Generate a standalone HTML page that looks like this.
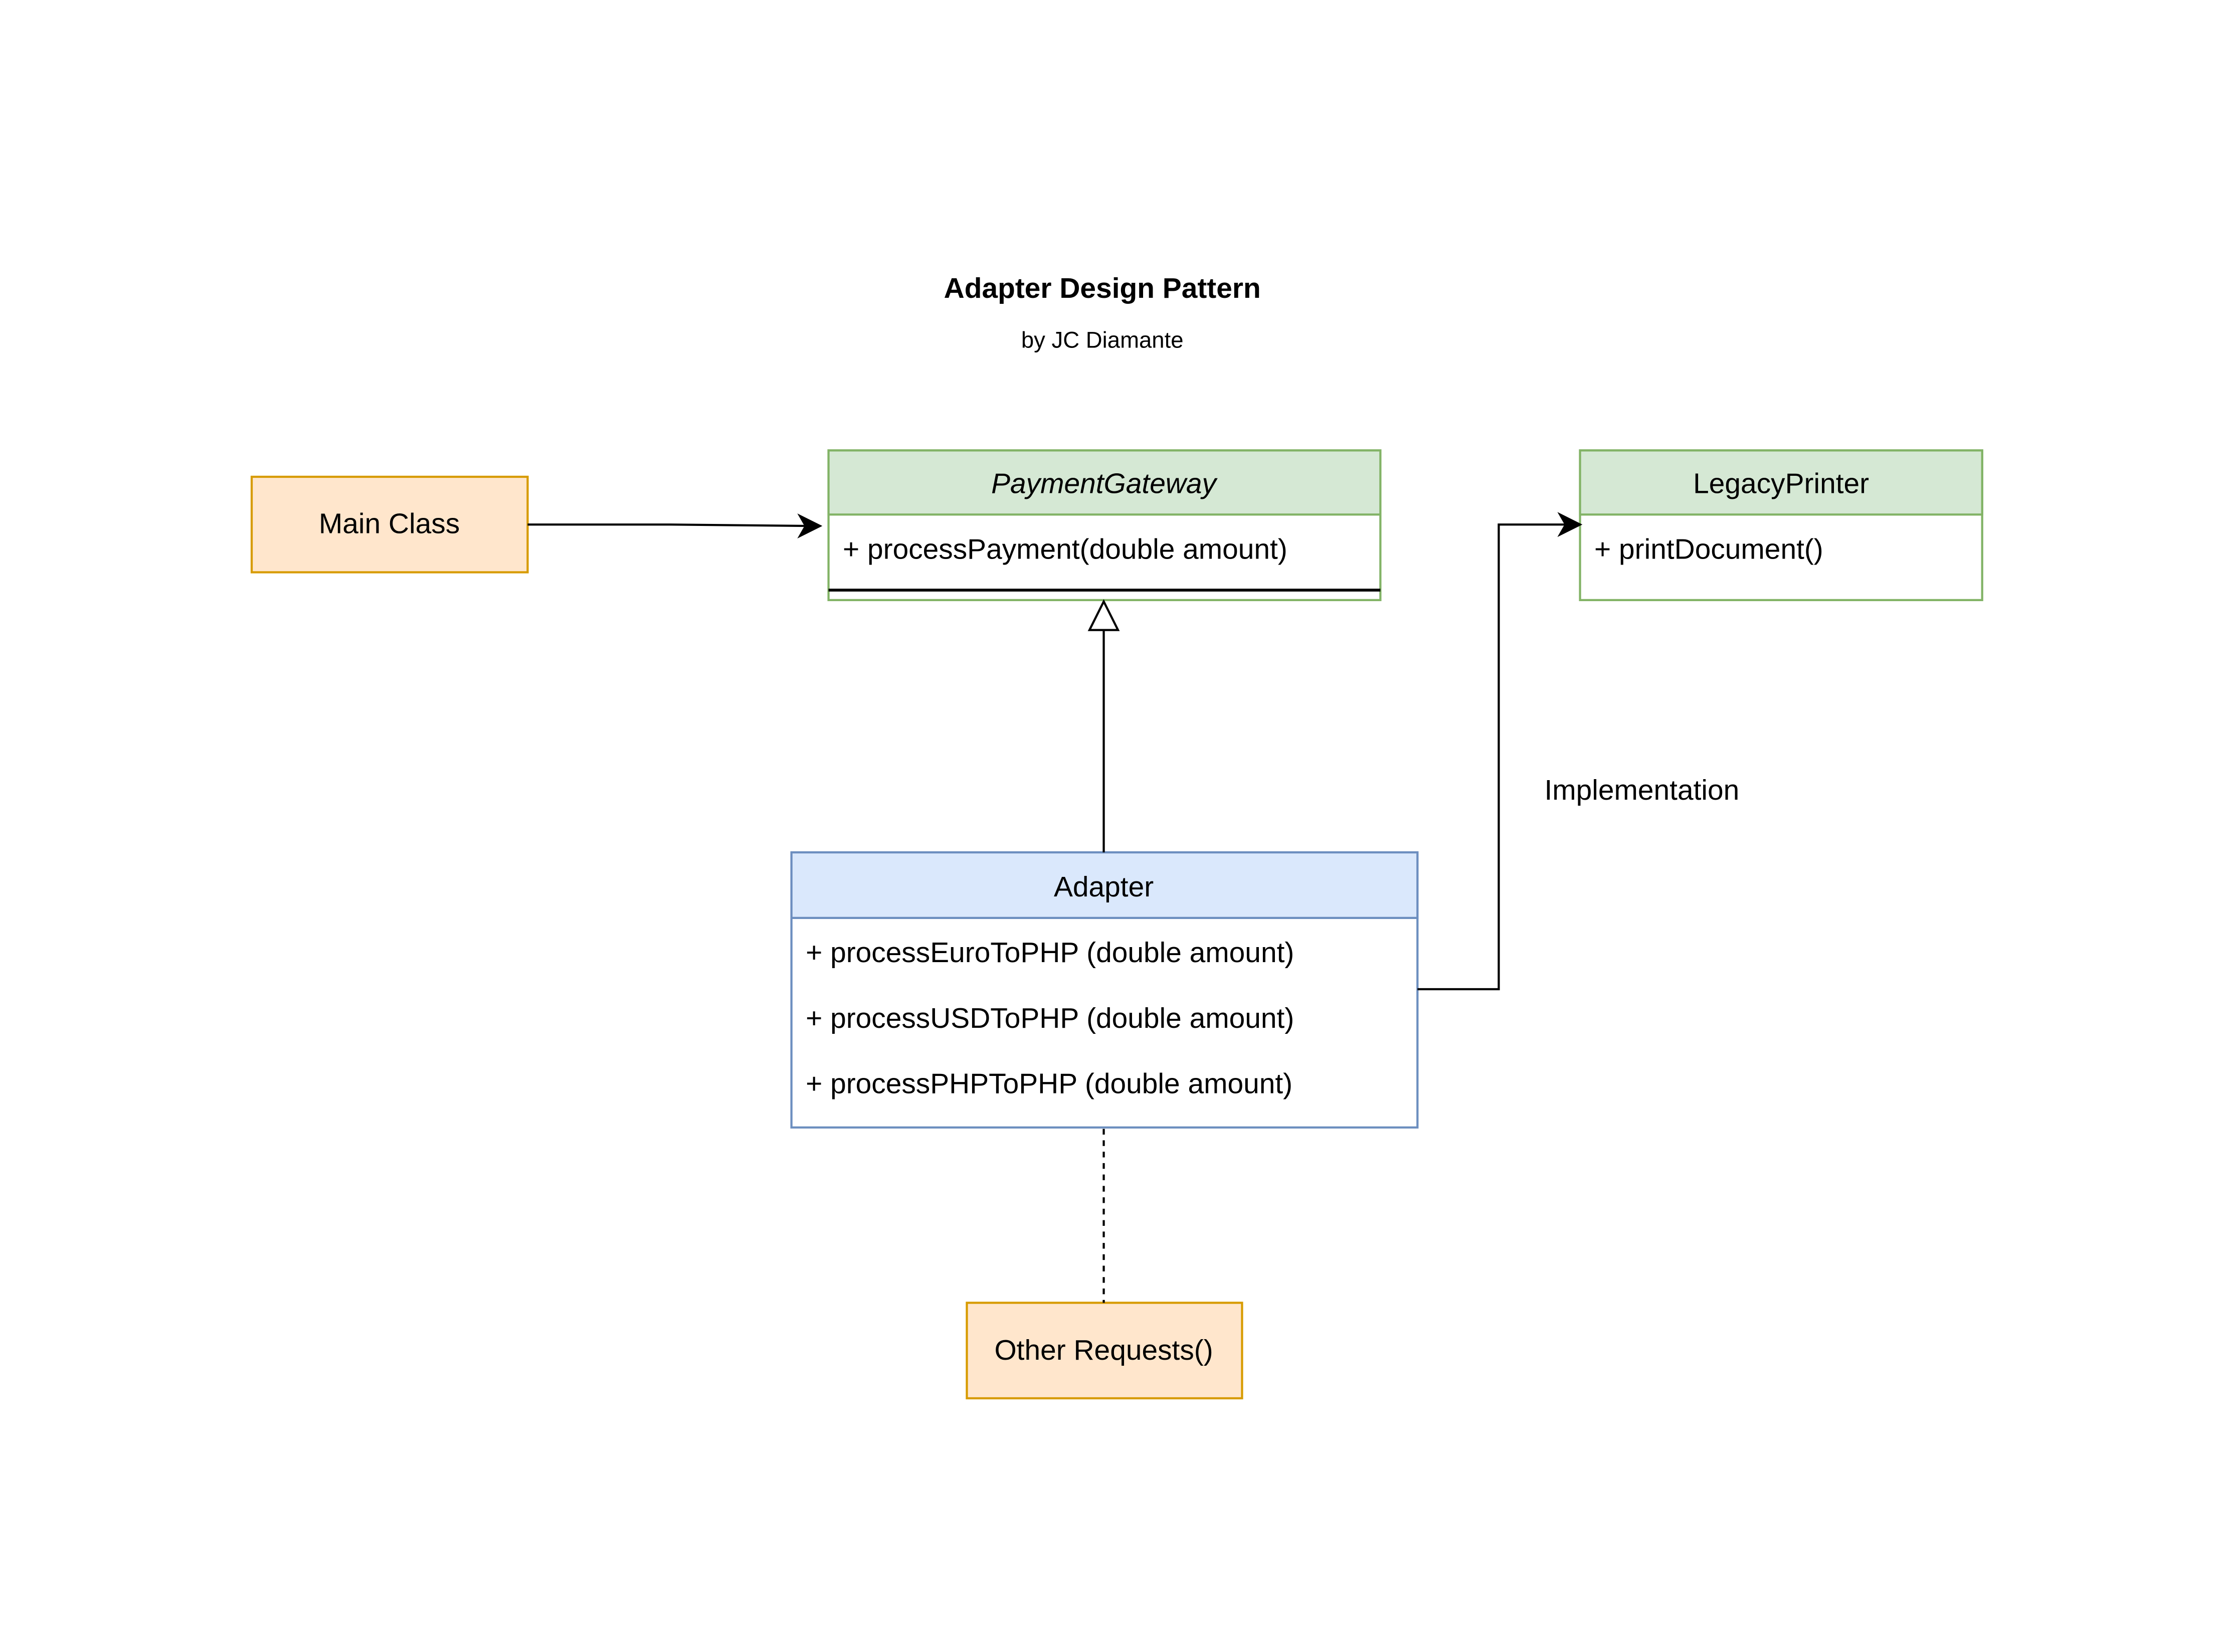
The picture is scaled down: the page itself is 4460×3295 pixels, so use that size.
<!DOCTYPE html>
<html><head><meta charset="utf-8"><style>
html,body{margin:0;padding:0;background:#fff;}
svg{display:block;}
text{font-family:"Liberation Sans",Arial,sans-serif;fill:#000;}
</style></head><body>
<svg width="4460" height="3295" viewBox="0 0 1568 1159" preserveAspectRatio="none" xmlns="http://www.w3.org/2000/svg">
<rect width="1568" height="1159" fill="#fff"/>
<text x="773" y="209" font-size="20" font-weight="bold" text-anchor="middle">Adapter Design Pattern</text>
<text x="773" y="244" font-size="16" text-anchor="middle">by JC Diamante</text>

<rect x="176.5" y="334.5" width="193.5" height="67" fill="#ffe6cc" stroke="#d79b00" stroke-width="1.5"/>
<text x="273" y="374" font-size="20" text-anchor="middle">Main Class</text>

<rect x="581" y="316" width="387" height="105" fill="#fff" stroke="#82b366" stroke-width="1.5"/>
<rect x="581" y="316" width="387" height="45" fill="#d5e8d4" stroke="#82b366" stroke-width="1.5"/>
<text x="774" y="346" font-size="20" font-style="italic" text-anchor="middle">PaymentGateway</text>
<text x="591" y="392" font-size="20">+ processPayment(double amount)</text>
<line x1="581" y1="414" x2="968" y2="414" stroke="#000" stroke-width="2"/>

<rect x="1108" y="316" width="282" height="105" fill="#fff" stroke="#82b366" stroke-width="1.5"/>
<rect x="1108" y="316" width="282" height="45" fill="#d5e8d4" stroke="#82b366" stroke-width="1.5"/>
<text x="1249" y="346" font-size="20" text-anchor="middle">LegacyPrinter</text>
<text x="1118" y="392" font-size="20">+ printDocument()</text>

<rect x="555" y="598" width="439" height="193" fill="#fff" stroke="#6c8ebf" stroke-width="1.5"/>
<rect x="555" y="598" width="439" height="46" fill="#dae8fc" stroke="#6c8ebf" stroke-width="1.5"/>
<text x="774" y="629" font-size="20" text-anchor="middle">Adapter</text>
<text x="565" y="675" font-size="20">+ processEuroToPHP (double amount)</text>
<text x="565" y="721" font-size="20">+ processUSDToPHP (double amount)</text>
<text x="565" y="767" font-size="20">+ processPHPToPHP (double amount)</text>

<rect x="678" y="914" width="193" height="67" fill="#ffe6cc" stroke="#d79b00" stroke-width="1.5"/>
<text x="774" y="954" font-size="20" text-anchor="middle">Other Requests()</text>

<path d="M370 368 L470 368 L566 369" fill="none" stroke="#000" stroke-width="1.5"/>
<path d="M575 369 L561 376 L565 369 L561 362 Z" fill="#000" stroke="#000" stroke-width="1.5"/>

<line x1="774" y1="598" x2="774" y2="442" stroke="#000" stroke-width="1.5"/>
<path d="M774 422 L764 442 L784 442 Z" fill="#fff" stroke="#000" stroke-width="1.5"/>

<path d="M994 694 L1051 694 L1051 368 L1099 368" fill="none" stroke="#000" stroke-width="1.5"/>
<path d="M1108 368 L1094 375 L1098 368 L1094 361 Z" fill="#000" stroke="#000" stroke-width="1.5"/>
<text x="1083" y="561" font-size="20">Implementation</text>

<line x1="774" y1="792" x2="774" y2="914" stroke="#000" stroke-width="1.5" stroke-dasharray="4 4"/>
</svg>
</body></html>
